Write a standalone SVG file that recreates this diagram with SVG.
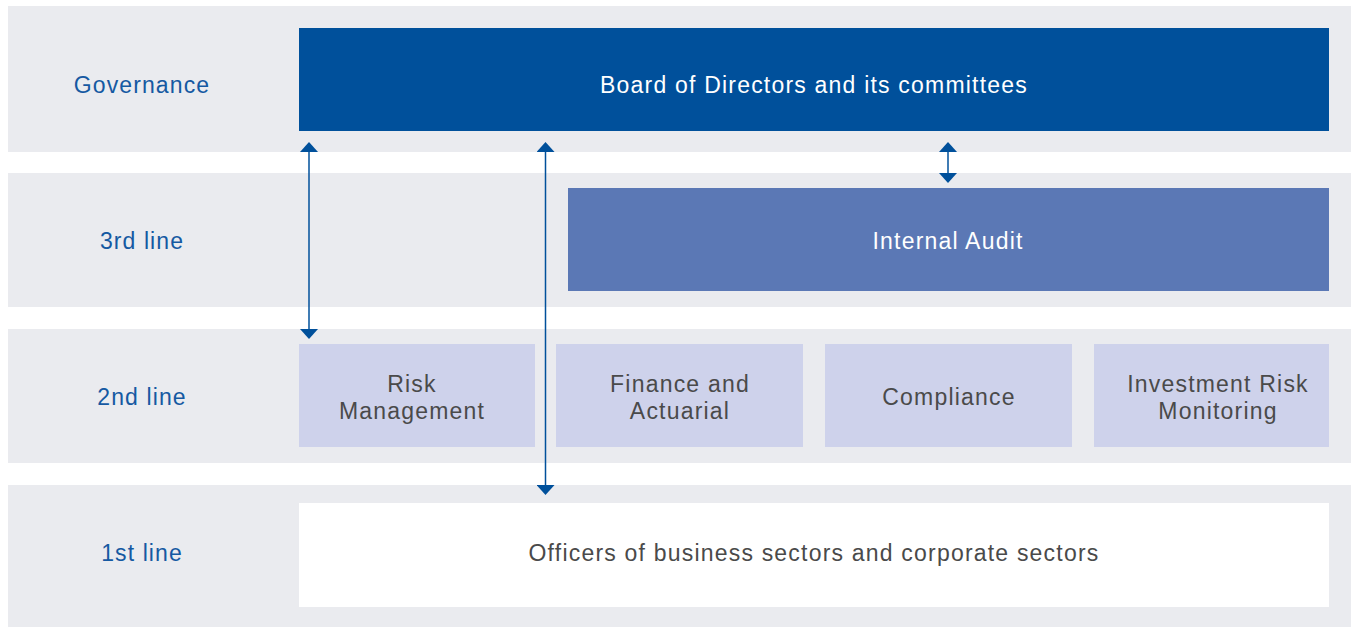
<svg xmlns="http://www.w3.org/2000/svg" width="1351" height="627" viewBox="0 0 1351 627">
<style>
.band{fill:#eaebef}
.lbl{font-family:"Liberation Sans",Arial,sans-serif;font-size:23px;letter-spacing:1.1px;fill:#1559a2;text-anchor:middle}
.txt{font-family:"Liberation Sans",Arial,sans-serif;font-size:23px;letter-spacing:1.2px;text-anchor:middle}
.w{fill:#ffffff}
.g{fill:#4a4a4a}
.second{fill:#ced2eb}
.conn{stroke:#00509b;stroke-width:1.5;fill:none}
</style>
<defs>
<marker id="ah" markerUnits="userSpaceOnUse" markerWidth="10" markerHeight="18" viewBox="0 0 10 18" refX="0" refY="9" orient="auto-start-reverse">
<path d="M0,0 L10,9 L0,18 z" fill="#00509b"/>
</marker>
</defs>
<rect width="1351" height="627" fill="#ffffff"/>
<g id="bands">
<rect class="band" x="8" y="6" width="1343" height="146"/>
<rect class="band" x="8" y="173" width="1343" height="134"/>
<rect class="band" x="8" y="329" width="1343" height="134"/>
<rect class="band" x="8" y="485" width="1343" height="142"/>
<text class="lbl" x="142" y="93">Governance</text>
<text class="lbl" x="142" y="249">3rd line</text>
<text class="lbl" x="142" y="405">2nd line</text>
<text class="lbl" x="142" y="561">1st line</text>
</g>
<g id="board">
<rect x="299" y="28" width="1030" height="103" fill="#00509b"/>
<text class="txt w" x="814" y="93">Board of Directors and its committees</text>
</g>
<g id="internal-audit">
<rect x="568" y="188" width="761" height="103" fill="#5b78b5"/>
<text class="txt w" x="948" y="249">Internal Audit</text>
</g>
<g id="risk-management">
<rect class="second" x="299" y="344" width="236" height="103"/>
<text class="txt g" x="412" y="392">Risk</text>
<text class="txt g" x="412" y="419">Management</text>
</g>
<g id="finance-actuarial">
<rect class="second" x="556" y="344" width="247" height="103"/>
<text class="txt g" x="680" y="392">Finance and</text>
<text class="txt g" x="680" y="419">Actuarial</text>
</g>
<g id="compliance">
<rect class="second" x="825" y="344" width="247" height="103"/>
<text class="txt g" x="949" y="405">Compliance</text>
</g>
<g id="investment-risk">
<rect class="second" x="1094" y="344" width="235" height="103"/>
<text class="txt g" x="1218" y="392">Investment Risk</text>
<text class="txt g" x="1218" y="419">Monitoring</text>
</g>
<g id="officers">
<rect x="299" y="503" width="1030" height="104" fill="#ffffff"/>
<text class="txt g" x="814" y="561">Officers of business sectors and corporate sectors</text>
</g>
<g id="connectors">
<line class="conn" x1="309" y1="152" x2="309" y2="329" marker-start="url(#ah)" marker-end="url(#ah)"/>
<line class="conn" x1="545.5" y1="152" x2="545.5" y2="485" marker-start="url(#ah)" marker-end="url(#ah)"/>
<line class="conn" x1="948" y1="152" x2="948" y2="173" marker-start="url(#ah)" marker-end="url(#ah)"/>
</g>
</svg>
